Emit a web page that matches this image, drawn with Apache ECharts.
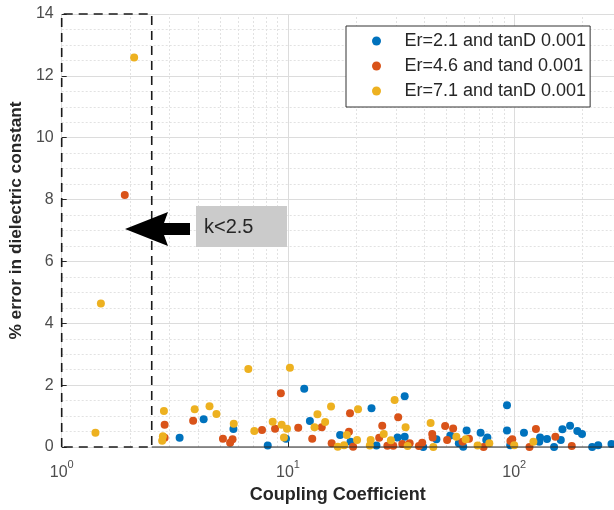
<!DOCTYPE html>
<html>
<head>
<meta charset="utf-8">
<script src="https://cdn.jsdelivr.net/npm/echarts@6/dist/echarts.min.js"></script>
<style>
html,body{margin:0;padding:0;background:#fff;}
#chart{width:614px;height:510px;}
</style>
</head>
<body>
<div id="chart"></div>
<script>
// ---- data ----
const seriesNames = ['Er=2.1 and tanD 0.001', 'Er=4.6 and tand 0.001', 'Er=7.1 and tanD 0.001'];
const er21 = [[3.32,0.30],[4.24,0.90],[5.74,0.58],[8.14,0.05],[9.8,0.27],[11.8,1.88],[12.5,0.84],[17.0,0.39],[18.9,0.17],[23.4,1.25],[24.6,0.05],[30.5,0.31],[32.8,0.33],[32.8,1.64],[39.6,0.0],[45.3,0.25],[52.2,0.37],[56.9,0.12],[59.5,0.01],[61.6,0.53],[71.0,0.46],[75.2,0.23],[76.1,0.31],[92.9,1.35],[92.9,0.53],[96,0.06],[110.4,0.46],[129,0.17],[130.1,0.31],[139.6,0.26],[150,0.0],[160.6,0.23],[163.3,0.57],[176.5,0.69],[190,0.52],[199.3,0.42],[221,0.0],[235,0.06],[269,0.1]];
const er46 = [[1.90,8.15],[2.85,0.72],[2.85,0.30],[3.81,0.85],[5.16,0.27],[5.55,0.14],[5.69,0.25],[7.68,0.55],[8.77,0.59],[9.3,1.74],[11.1,0.62],[12.8,0.27],[14.1,0.64],[15.6,0.12],[18.6,0.49],[18.8,1.09],[19.4,0.01],[25.3,0.30],[26.1,0.69],[27.5,0.04],[29.2,0.04],[30.7,0.96],[32.0,0.10],[34.5,0.12],[37.9,0.03],[39.2,0.14],[43.4,0.42],[43.6,0.31],[49.5,0.68],[50.5,0.23],[53.7,0.60],[59.1,0.17],[63.1,0.27],[73.2,0.0],[96.2,0.19],[98,0.25],[116.8,0.0],[124.7,0.58],[152,0.33],[179.6,0.03]];
const er71 = [[1.41,0.46],[1.49,4.64],[2.09,12.59],[2.83,1.16],[2.80,0.35],[2.78,0.20],[3.87,1.22],[4.50,1.32],[4.83,1.07],[5.76,0.75],[6.68,2.52],[7.1,0.52],[8.56,0.82],[9.38,0.72],[9.6,0.31],[9.9,0.59],[10.2,2.56],[13.1,0.64],[13.5,1.06],[14.6,0.81],[15.5,1.31],[16.6,0.01],[17.7,0.06],[18.2,0.39],[20.2,0.23],[20.4,1.22],[23.0,0.05],[23.2,0.23],[26.5,0.42],[28.5,0.22],[29.6,1.52],[33.1,0.64],[33.8,0.03],[42.7,0.78],[43.9,0.0],[55.5,0.33],[61.0,0.25],[68.9,0.05],[77.6,0.12],[100,0.06],[121.5,0.17]];
const xMin = 1, xMax = 276;
const yMin = 0, yMax = 14, yStep = 2;
const minorX = [2,3,4,5,6,7,8,9,20,30,40,50,60,70,80,90,200];
const boxK = [1, 2.5];          // k < 2.5 region
const boxErr = [0, 14];
const noteText = 'k<2.5';

// ---- chart ----
const colors = ['#0072BD', '#D95319', '#EDB120'];
const chart = echarts.init(document.getElementById('chart'), null, {renderer: 'canvas'});
const FONT = 'Liberation Sans, Arial, sans-serif';

const rectPts = [[boxK[0], boxErr[0]], [boxK[0], boxErr[1]], [boxK[1], boxErr[1]], [boxK[1], boxErr[0]], [boxK[0], boxErr[0]]];
const axisPts = [[boxK[1], yMin], [xMax, yMin]];

function scatterSeries(name, data, color) {
  return {
    name: name, type: 'scatter', data: data, symbol: 'circle', symbolSize: 8,
    itemStyle: {color: color, opacity: 1}, z: 5, emphasis: {disabled: true}
  };
}

chart.setOption({
  animation: false,
  color: colors,
  textStyle: {fontFamily: FONT},
  grid: {left: 60, right: 0, top: 14, bottom: 63, containLabel: false},
  legend: {
    data: seriesNames.map(n => ({name: n, icon: 'circle'})),
    orient: 'vertical', left: 346, top: 26,
    itemWidth: 46, itemHeight: 9, itemGap: 7,
    padding: [6, 4, 7, 26],
    borderColor: '#333', borderWidth: 1, backgroundColor: '#fff',
    textStyle: {fontSize: 18, color: '#262626', fontFamily: FONT},
    selectedMode: false, z: 10
  },
  xAxis: {
    type: 'log', logBase: 10, min: xMin, max: xMax,
    name: 'Coupling Coefficient', nameLocation: 'middle', nameGap: 37,
    nameTextStyle: {fontSize: 18, fontWeight: 'bold', color: '#262626', fontFamily: FONT},
    axisLine: {show: false},
    axisTick: {show: true, inside: true, length: 5, lineStyle: {color: '#262626'}},
    axisLabel: {
      showMaxLabel: false, margin: 12, color: '#4d4d4d',
      formatter: function (v) {
        const e = Math.round(Math.log10(v));
        if (Math.abs(Math.pow(10, e) - v) > 1e-6 * v) return '';
        return '{b|10}{s|' + e + '}';
      },
      rich: {
        b: {fontSize: 16, color: '#4d4d4d', fontFamily: FONT, lineHeight: 22, verticalAlign: 'bottom'},
        s: {fontSize: 11, color: '#4d4d4d', fontFamily: FONT, lineHeight: 22, verticalAlign: 'top'}
      }
    },
    splitLine: {show: true, lineStyle: {color: '#dcdcdc', width: 1}}
  },
  yAxis: {
    type: 'value', min: yMin, max: yMax, interval: yStep,
    name: '% error in dielectric constant', nameLocation: 'middle', nameGap: 29,
    nameTextStyle: {fontSize: 17.3, fontWeight: 'bold', color: '#262626', fontFamily: FONT, padding: [0, 0, 0, 20]},
    axisLine: {show: false},
    axisTick: {show: true, inside: true, length: 5, lineStyle: {color: '#262626'}},
    axisLabel: {fontSize: 16, color: '#4d4d4d', margin: 8, fontFamily: FONT},
    splitLine: {show: true, lineStyle: {color: '#dcdcdc', width: 1}},
    minorTick: {show: false, splitNumber: 4},
    minorSplitLine: {show: true, lineStyle: {color: '#e2e2e2', width: 1, type: [2, 2]}}
  },
  series: [
    {
      name: 'minor', type: 'line', data: [], silent: true, z: 1,
      markLine: {
        silent: true, symbol: ['none', 'none'], animation: false,
        label: {show: false},
        lineStyle: {color: '#e2e2e2', width: 1, type: [2, 2]},
        data: minorX.map(v => ({xAxis: v}))
      }
    },
    scatterSeries(seriesNames[0], er21, colors[0]),
    scatterSeries(seriesNames[1], er46, colors[1]),
    scatterSeries(seriesNames[2], er71, colors[2]),
    {
      name: 'axis', type: 'line', data: axisPts, symbol: 'none', silent: true, clip: false, z: 6,
      lineStyle: {color: '#262626', width: 1}
    },
    {
      name: 'box', type: 'line', data: rectPts, symbol: 'none', silent: true, clip: false, z: 7,
      lineStyle: {color: '#1a1a1a', width: 1.6, type: [9, 6]}
    }
  ],
  graphic: [
    {
      type: 'polygon', z: 20,
      shape: {points: [[125, 229], [168, 212], [164, 223], [190, 223], [190, 235], [164, 235], [168, 246]]},
      style: {fill: '#000'}
    },
    {
      type: 'rect', z: 20,
      shape: {x: 196, y: 206, width: 91, height: 41},
      style: {fill: '#cbcbcb'}
    },
    {
      type: 'text', z: 21, x: 204, y: 227,
      style: {text: noteText, fontSize: 20, fill: '#262626', fontFamily: FONT, verticalAlign: 'middle', align: 'left'}
    }
  ]
});
</script>
</body>
</html>
